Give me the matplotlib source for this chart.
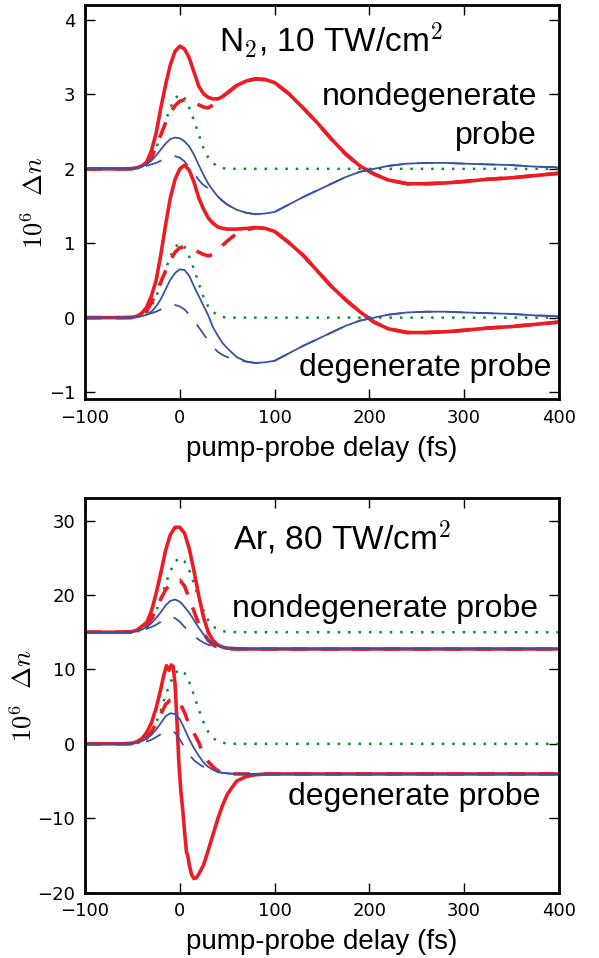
import matplotlib
matplotlib.use('Agg')
import matplotlib.pyplot as plt

plt.rcParams['mathtext.fontset'] = 'cm'
plt.rcParams['lines.scale_dashes'] = False
plt.rcParams['font.family'] = ['DejaVu Sans']

RED = '#ed1c24'
BLUE = '#3953a4'
GREEN = '#0a8a3c'
LAB = 'Liberation Sans'

# ---- N2, 10 TW/cm^2 (delay in fs, 10^6 dn) ----
t_n2 = [-100, -60, -50, -45, -40, -35, -30, -25, -20, -15,
        -10, -5, 0, 5, 10, 15, 20, 25, 30, 35,
        40, 45, 50, 60, 70, 80, 90, 100, 115, 130,
        145, 160, 175, 190, 205, 220, 240, 260, 280, 300,
        325, 350, 375, 400]

n2_green_nd = [2.0, 2.0, 2.0, 2.01, 2.03, 2.07, 2.15, 2.28, 2.45, 2.65,
               2.82, 2.95, 3.0, 2.95, 2.82, 2.65, 2.46, 2.28, 2.15, 2.08,
               2.03, 2.01, 2.0, 2.0, 2.0, 2.0, 2.0, 2.0, 2.0, 2.0,
               2.0, 2.0, 2.0, 2.0, 2.0, 2.0, 2.0, 2.0, 2.0, 2.0,
               2.0, 2.0, 2.0, 2.0]
n2_red_nd = [2.0, 2.0, 2.005, 2.015, 2.04, 2.09, 2.24, 2.48, 2.82, 3.13,
             3.40, 3.58, 3.65, 3.61, 3.49, 3.30, 3.11, 3.01, 2.96, 2.94,
             2.94, 2.97, 3.02, 3.12, 3.18, 3.21, 3.20, 3.16, 3.01, 2.82,
             2.62, 2.40, 2.20, 2.04, 1.93, 1.85, 1.80, 1.80, 1.81, 1.83,
             1.86, 1.88, 1.91, 1.94]
n2_red_nd_d = [2.0, 2.0, 2.0, 2.015, 2.04, 2.08, 2.14, 2.30, 2.46, 2.62,
               2.75, 2.85, 2.91, 2.93, 2.92, 2.89, 2.86, 2.83, 2.82, 2.86,
               2.92, 2.97, 3.02, 3.12, 3.18, 3.21, 3.20, 3.16, 3.01, 2.82,
               2.62, 2.40, 2.20, 2.04, 1.93, 1.85, 1.80, 1.80, 1.81, 1.83,
               1.86, 1.88, 1.91, 1.94]
n2_blue_nd = [2.0, 2.0, 2.005, 2.01, 2.03, 2.06, 2.11, 2.18, 2.26, 2.34,
              2.40, 2.42, 2.41, 2.37, 2.30, 2.19, 2.05, 1.92, 1.80, 1.71,
              1.63, 1.57, 1.52, 1.45, 1.41, 1.39, 1.40, 1.42, 1.52, 1.62,
              1.71, 1.80, 1.89, 1.96, 2.00, 2.04, 2.07, 2.08, 2.08, 2.07,
              2.06, 2.05, 2.03, 2.02]
n2_blue_nd_d = [2.0, 2.0, 2.0, 2.01, 2.02, 2.04, 2.06, 2.08, 2.11, 2.14,
                2.17, 2.17, 2.15, 2.10, 2.02, 1.94, 1.85, 1.78, 1.74, 1.71,
                1.63, 1.57, 1.52, 1.45, 1.41, 1.39, 1.40, 1.42, 1.52, 1.62,
                1.71, 1.80, 1.89, 1.96, 2.00, 2.04, 2.07, 2.08, 2.08, 2.07,
                2.06, 2.05, 2.03, 2.02]

n2_green_d = [0.0, 0.0, 0.0, 0.01, 0.03, 0.07, 0.15, 0.28, 0.45, 0.65,
              0.82, 0.95, 1.0, 0.95, 0.82, 0.65, 0.46, 0.28, 0.15, 0.08,
              0.03, 0.01, 0.0, 0.0, 0.0, 0.0, 0.0, 0.0, 0.0, 0.0,
              0.0, 0.0, 0.0, 0.0, 0.0, 0.0, 0.0, 0.0, 0.0, 0.0,
              0.0, 0.0, 0.0, 0.0]
n2_red_d = [0.0, 0.0, 0.005, 0.02, 0.06, 0.14, 0.29, 0.50, 0.85, 1.25,
            1.61, 1.86, 2.00, 2.05, 1.98, 1.82, 1.61, 1.46, 1.34, 1.27,
            1.22, 1.20, 1.19, 1.19, 1.20, 1.21, 1.20, 1.16, 1.01, 0.84,
            0.63, 0.42, 0.24, 0.08, -0.06, -0.15, -0.20, -0.20, -0.19, -0.17,
            -0.14, -0.12, -0.09, -0.06]
n2_red_d_d = [0.0, 0.0, 0.0, 0.015, 0.04, 0.09, 0.20, 0.33, 0.48, 0.63,
              0.77, 0.88, 0.94, 0.95, 0.94, 0.91, 0.88, 0.85, 0.83, 0.85,
              0.91, 0.97, 1.03, 1.13, 1.18, 1.21, 1.20, 1.16, 1.01, 0.84,
              0.63, 0.42, 0.24, 0.08, -0.06, -0.15, -0.20, -0.20, -0.19, -0.17,
              -0.14, -0.12, -0.09, -0.06]
n2_blue_d = [0.0, 0.0, 0.003, 0.01, 0.02, 0.04, 0.08, 0.15, 0.25, 0.38,
             0.51, 0.60, 0.65, 0.64, 0.56, 0.42, 0.29, 0.16, 0.03, -0.13,
             -0.24, -0.34, -0.41, -0.53, -0.59, -0.61, -0.60, -0.58, -0.48, -0.38,
             -0.29, -0.20, -0.11, -0.04, 0.00, 0.04, 0.07, 0.08, 0.08, 0.07,
             0.06, 0.05, 0.03, 0.02]
n2_blue_d_d = [0.0, 0.0, 0.0, 0.01, 0.02, 0.04, 0.06, 0.08, 0.11, 0.14,
               0.17, 0.17, 0.15, 0.11, 0.04, -0.04, -0.13, -0.22, -0.31, -0.39,
               -0.46, -0.50, -0.53, -0.57, -0.59, -0.61, -0.60, -0.58, -0.48, -0.38,
               -0.29, -0.20, -0.11, -0.04, 0.00, 0.04, 0.07, 0.08, 0.08, 0.07,
               0.06, 0.05, 0.03, 0.02]

# ---- Ar, 80 TW/cm^2 ----
t_ar = [-100, -60, -50, -45, -40, -35, -30, -25, -20, -15,
        -10, -5, 0, 5, 10, 15, 20, 25, 30, 35,
        40, 45, 50, 60, 70, 80, 90, 100, 200, 300,
        400]

ar_green_nd = [15.0, 15.0, 15.0, 15.1, 15.3, 15.7, 16.5, 17.8, 19.5, 21.5,
               23.2, 24.5, 25.0, 24.5, 23.3, 21.5, 19.6, 17.9, 16.6, 15.8,
               15.35, 15.15, 15.05, 15.0, 15.0, 15.0, 15.0, 15.0, 15.0, 15.0,
               15.0]
ar_red_nd = [15.0, 15.0, 15.1, 15.3, 15.8, 16.3, 17.8, 20.2, 23.0, 26.0,
             28.1, 29.1, 29.1, 28.3, 26.2, 23.2, 19.9, 17.0, 15.0, 13.9,
             13.3, 13.0, 12.85, 12.78, 12.75, 12.75, 12.75, 12.75, 12.75, 12.75,
             12.75]
ar_red_nd_d = [15.0, 15.0, 15.0, 15.1, 15.3, 15.8, 16.8, 18.0, 19.5, 20.7,
               21.5, 21.9, 22.0, 21.2, 19.5, 17.8, 16.1, 14.9, 13.9, 13.3,
               13.0, 12.85, 12.8, 12.75, 12.75, 12.75, 12.75, 12.75, 12.75, 12.75,
               12.75]
ar_blue_nd = [15.0, 15.0, 15.05, 15.15, 15.35, 15.7, 16.2, 16.9, 17.7, 18.6,
              19.2, 19.4, 19.1, 18.4, 17.6, 16.6, 15.6, 14.7, 14.0, 13.5,
              13.2, 13.0, 12.9, 12.8, 12.75, 12.75, 12.75, 12.75, 12.75, 12.75,
              12.75]
ar_blue_nd_d = [15.0, 15.0, 15.0, 15.1, 15.25, 15.45, 15.7, 16.0, 16.4, 16.8,
                17.0, 16.9, 16.4, 15.7, 15.1, 14.5, 14.0, 13.6, 13.3, 13.1,
                12.95, 12.85, 12.8, 12.75, 12.75, 12.75, 12.75, 12.75, 12.75, 12.75,
                12.75]

ar_green_d = [0.0, 0.0, 0.0, 0.1, 0.3, 0.7, 1.5, 2.8, 4.5, 6.5,
              8.2, 9.5, 10.0, 9.5, 8.3, 6.5, 4.6, 2.9, 1.6, 0.8,
              0.35, 0.15, 0.05, 0.0, 0.0, 0.0, 0.0, 0.0, 0.0, 0.0,
              0.0]
# the degenerate red curve has a sharp swing, so it gets its own delays
t_ar_red_d = [-100, -60, -50, -45, -40, -35, -30, -25, -20, -17,
              -14, -11.5, -9, -7, -5, -3, -1, 1, 3, 5,
              7, 8.5, 10, 12.5, 15, 17.5, 20, 25, 30, 35,
              40, 45, 50, 60, 70, 80, 90, 100, 400]
ar_red_d = [0.0, 0.0, 0.1, 0.3, 0.7, 1.5, 2.8, 4.8, 7.4, 9.2,
            10.5, 9.9, 10.6, 10.4, 8.0, 3.0, -2.6, -6.2, -8.8, -11.8,
            -14.5, -15.1, -16.3, -17.6, -18.1, -18.0, -17.5, -16.3, -14.3, -12.2,
            -10.1, -8.3, -6.8, -5.0, -4.4, -4.15, -4.07, -4.05, -4.05]
ar_red_d_d = [0.0, 0.0, 0.0, 0.1, 0.3, 0.8, 1.6, 2.7, 4.0, 5.3,
              5.9, 6.0, 5.5, 4.2, 2.5, 1.4, 0.2, -1.5, -2.4, -3.1,
              -3.6, -3.85, -4.0, -4.05, -4.05, -4.05, -4.05, -4.05, -4.05, -4.05,
              -4.05]
ar_blue_d = [0.0, 0.0, 0.05, 0.15, 0.35, 0.7, 1.2, 1.9, 2.8, 3.7,
             4.1, 4.0, 3.3, 2.0, 0.6, -0.6, -1.6, -2.5, -3.1, -3.5,
             -3.75, -3.9, -3.97, -4.05, -4.05, -4.05, -4.05, -4.05, -4.05, -4.05,
             -4.05]
ar_blue_d_d = [0.0, 0.0, 0.0, 0.05, 0.15, 0.3, 0.55, 0.9, 1.3, 1.6,
               1.8, 1.5, 0.6, -0.5, -1.5, -2.2, -2.7, -3.1, -3.4, -3.65,
               -3.8, -3.9, -3.97, -4.05, -4.05, -4.05, -4.05, -4.05, -4.05, -4.05,
               -4.05]

xticks = [-100, 0, 100, 200, 300, 400]
yticks_n2 = [-1, 0, 1, 2, 3, 4]
yticks_ar = [-20, -10, 0, 10, 20, 30]

DASH = (0, (12, 10))
DOT = (0, (1.8, 5.7))


def style_axes(ax, ylim, yticks):
    ax.set_xlim(-100, 400)
    ax.set_ylim(*ylim)
    ax.set_xticks(xticks)
    ax.set_yticks(yticks)
    ax.tick_params(direction='in', length=7, width=1, top=True, right=True,
                   labelsize=13, pad=7)
    for s in ax.spines.values():
        s.set_linewidth(2)
    ax.set_xlabel('pump-probe delay (fs)', family=LAB, fontsize=20, labelpad=6)
    ax.set_ylabel(r'$10^6\ \ \Delta n$', fontsize=19, labelpad=0)


def draw_group(ax, t, green, red, red_d, blue, blue_d, t_red=None):
    if t_red is None:
        t_red = t
    ax.plot(t, green, color=GREEN, lw=1.8, linestyle=DOT)
    ax.plot(t_red, red, color=RED, lw=2.6, solid_capstyle='round')
    ax.plot(t, red_d, color=RED, lw=2.6, linestyle=DASH)
    ax.plot(t, blue, color=BLUE, lw=1.3)
    ax.plot(t, blue_d, color=BLUE, lw=1.3, linestyle=DASH)


fig = plt.figure(figsize=(5.99, 9.58), dpi=100)
ax1 = fig.add_axes([0.142, 0.583, 0.791, 0.4116])
ax2 = fig.add_axes([0.142, 0.0682, 0.791, 0.4117])

draw_group(ax1, t_n2, n2_green_nd, n2_red_nd, n2_red_nd_d, n2_blue_nd, n2_blue_nd_d)
draw_group(ax1, t_n2, n2_green_d, n2_red_d, n2_red_d_d, n2_blue_d, n2_blue_d_d)
style_axes(ax1, (-1.1, 4.2), yticks_n2)
ax1.text(159, 3.56, r'N$_\mathsf{2}$, 10 TW/cm$^\mathsf{2}$', family=LAB, fontsize=24,
         ha='center', va='baseline')
ax1.text(377, 2.86, 'nondegenerate', family=LAB, fontsize=23, ha='right', va='baseline')
ax1.text(377, 2.34, 'probe', family=LAB, fontsize=23, ha='right', va='baseline')
ax1.text(392, -0.79, 'degenerate probe', family=LAB, fontsize=23, ha='right', va='baseline')

draw_group(ax2, t_ar, ar_green_nd, ar_red_nd, ar_red_nd_d, ar_blue_nd, ar_blue_nd_d)
draw_group(ax2, t_ar, ar_green_d, ar_red_d, ar_red_d_d, ar_blue_d, ar_blue_d_d,
           t_red=t_ar_red_d)
style_axes(ax2, (-20, 33), yticks_ar)
ax2.text(171, 26.0, r'Ar, 80 TW/cm$^\mathsf{2}$', family=LAB, fontsize=24,
         ha='center', va='baseline')
ax2.text(378, 17.1, 'nondegenerate probe', family=LAB, fontsize=23, ha='right', va='baseline')
ax2.text(380, -8.2, 'degenerate probe', family=LAB, fontsize=23, ha='right', va='baseline')

fig.savefig('out.png', dpi=100)
